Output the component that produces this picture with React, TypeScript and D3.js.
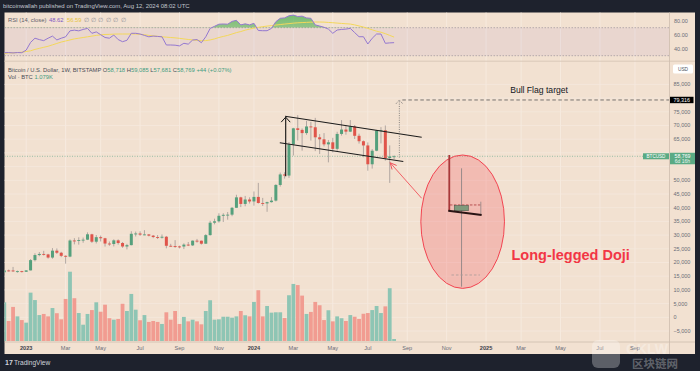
import * as d3 from 'd3'

// weekly candles, BITSTAMP BTCUSD
const weeks = [
  '2022-11-28', '2022-12-05', '2022-12-12', '2022-12-19', '2022-12-26',
  '2023-01-02', '2023-01-09', '2023-01-16', '2023-01-23', '2023-01-30',
  '2023-02-06', '2023-02-13', '2023-02-20', '2023-02-27',
  '2023-03-06', '2023-03-13', '2023-03-20', '2023-03-27',
  '2023-04-03', '2023-04-10', '2023-04-17', '2023-04-24',
  '2023-05-01', '2023-05-08', '2023-05-15', '2023-05-22', '2023-05-29',
  '2023-06-05', '2023-06-12', '2023-06-19', '2023-06-26',
  '2023-07-03', '2023-07-10', '2023-07-17', '2023-07-24', '2023-07-31',
  '2023-08-07', '2023-08-14', '2023-08-21', '2023-08-28',
  '2023-09-04', '2023-09-11', '2023-09-18', '2023-09-25',
  '2023-10-02', '2023-10-09', '2023-10-16', '2023-10-23', '2023-10-30',
  '2023-11-06', '2023-11-13', '2023-11-20', '2023-11-27',
  '2023-12-04', '2023-12-11', '2023-12-18', '2023-12-25',
  '2024-01-01', '2024-01-08', '2024-01-15', '2024-01-22', '2024-01-29',
  '2024-02-05', '2024-02-12', '2024-02-19', '2024-02-26',
  '2024-03-04', '2024-03-11', '2024-03-18', '2024-03-25',
  '2024-04-01', '2024-04-08', '2024-04-15', '2024-04-22', '2024-04-29',
  '2024-05-06', '2024-05-13', '2024-05-20', '2024-05-27',
  '2024-06-03', '2024-06-10', '2024-06-17', '2024-06-24',
  '2024-07-01', '2024-07-08', '2024-07-15', '2024-07-22', '2024-07-29',
  '2024-08-05', '2024-08-12',
]

const opens = [
  16440, 17100, 17090, 16760, 16840, 16610, 17120, 20870, 22720, 23120,
  22950, 21800, 24320, 23560, 22430, 22150, 28030, 27990, 28190, 28330,
  30290, 27590, 29240, 28850, 26920, 26750, 28080, 27110, 25840, 26340,
  30480, 30590, 30170, 30250, 29800, 29300, 29050, 29400, 26100, 26010,
  25860, 25830, 26530, 26250, 27970, 27950, 26860, 29990, 34520, 35030,
  37050, 37400, 37460, 39970, 43780, 41370, 42990, 42280, 43940, 41720,
  41570, 42030, 42580, 48300, 52140, 51730, 63110, 68970, 68390, 67230,
  69650, 69360, 65690, 64960, 63120, 63860, 61480, 66920, 68520, 67760,
  69650, 66240, 64260, 62720, 55850, 60800, 68180, 68260, 58140, 58718,
]
const highs = [
  17420, 17420, 18380, 17050, 16960, 17190, 21260, 23370, 23810, 24250,
  23160, 25250, 25130, 23880, 22600, 28440, 28880, 29190, 29100, 31000,
  30490, 30030, 29820, 29000, 27670, 28450, 28440, 27470, 26800, 31400,
  31290, 31380, 31800, 30350, 30040, 30020, 30240, 29680, 26810, 28150,
  26140, 27000, 27480, 28050, 28600, 28000, 30360, 35210, 35990, 37970,
  37970, 38420, 40220, 44720, 43990, 44290, 43790, 45920, 49050, 43570,
  42200, 43860, 48590, 52820, 52960, 63950, 69170, 73780, 68920, 71720,
  71300, 72780, 66870, 67230, 64730, 65500, 67700, 71960, 70030, 71980,
  70180, 67020, 64520, 63820, 61400, 68380, 69400, 70010, 62740, 59085,
]
const lows = [
  16000, 16680, 16540, 16280, 16330, 16540, 17100, 20400, 22290, 22550,
  21420, 21380, 23120, 21970, 19570, 21930, 26620, 26520, 27210, 28180,
  27140, 26960, 27680, 25810, 26090, 25870, 26520, 25360, 24790, 26250,
  29500, 29710, 29950, 29520, 28880, 28580, 28740, 25170, 25800, 25340,
  25160, 24900, 26000, 26020, 27240, 26540, 26820, 29830, 33930, 34550,
  34790, 35630, 36900, 39970, 40220, 40520, 41530, 40750, 41500, 40630,
  38510, 41860, 42270, 47700, 50620, 50900, 59050, 64530, 60810, 66600,
  64500, 60660, 59600, 62390, 56550, 60190, 60760, 66320, 66630, 67600,
  65070, 63390, 58400, 53500, 54280, 60620, 63460, 57170, 49050, 57681,
]
const closes = [
  17100, 17090, 16760, 16840, 16610, 17120, 20870, 22720, 23120, 22950,
  21800, 24320, 23560, 22430, 22150, 28030, 27990, 28190, 28330, 30290,
  27590, 29240, 28850, 26920, 26750, 28080, 27110, 25840, 26340, 30480,
  30590, 30170, 30250, 29800, 29300, 29050, 29400, 26100, 26010, 25860,
  25830, 26530, 26250, 27970, 27950, 26860, 29990, 34520, 35030, 37050,
  37400, 37460, 39970, 43780, 41370, 42990, 42280, 43940, 41720, 41570,
  42030, 42580, 48300, 52140, 51730, 63110, 68970, 68390, 67230, 69650,
  69360, 65690, 64960, 63120, 63860, 61480, 66920, 68520, 67760, 69650,
  66240, 64260, 62720, 55850, 60800, 68180, 68260, 58140, 58718, 58769,
]
// volume, thousand BTC
const volumes = [
  20.9, 10.8, 18.4, 13.3, 11.3, 9.9, 26.1, 22.1, 14.0, 14.6,
  13.3, 17.8, 15.0, 11.7, 22.7, 37.4, 23.1, 15.1, 8.8, 14.6,
  16.7, 20.9, 15.8, 19.6, 12.3, 11.5, 11.9, 20.1, 16.2, 25.4,
  16.9, 11.2, 14.0, 10.3, 10.8, 10.3, 9.2, 15.5, 11.5, 16.2,
  9.2, 13.0, 10.6, 11.5, 10.6, 9.0, 16.2, 22.0, 11.5, 11.7,
  13.1, 13.1, 12.6, 13.3, 16.2, 13.9, 13.3, 21.1, 27.4, 13.3,
  18.9, 15.3, 15.5, 15.5, 12.4, 24.7, 30.8, 30.2, 24.5, 14.6,
  15.7, 21.1, 19.3, 11.3, 16.6, 10.6, 13.3, 12.3, 10.8, 14.0,
  13.1, 11.9, 14.7, 15.1, 16.7, 18.9, 15.1, 18.7, 28.5, 1.079,
]
// RSI(14) and its moving average
const rsiValues = [
  34.3, 34.5, 34, 34.5, 34.3, 38, 49, 55, 53, 51.5,
  55, 58, 52.5, 55, 57, 65.5, 66.5, 65.5, 67.5, 69,
  62, 64, 60, 56, 55, 59.5, 53, 50, 52, 62,
  62, 61, 59, 57, 58, 57.5, 57, 45.3, 45.3, 45,
  44, 47.7, 46.5, 52.4, 53, 48.6, 57, 69, 72, 75,
  75.3, 75, 79, 80.5, 74, 75.5, 74, 76.3, 66, 65.7,
  65.7, 69, 78.6, 83.4, 84, 87, 88, 86, 86.5, 84,
  83.4, 74, 72.4, 70.6, 68, 62, 66.7, 67.5, 68, 69,
  63, 57.1, 57.1, 46.7, 54.9, 61, 61, 47.7, 48.3, 48.62,
]
const rsiMa = [
  33, 34, 34, 34.5, 35, 36, 37, 39, 40.5, 42,
  43.5, 45.5, 47.5, 49.5, 51, 52.5, 54, 55, 56, 57,
  58, 59, 59.8, 60.3, 60.5, 60.8, 61, 61, 61, 61,
  61, 60.5, 60, 59, 58.3, 57.7, 57, 56.5, 56, 55.5,
  54.8, 54, 53.2, 52.5, 52, 51.5, 51.5, 52.5, 54, 56,
  57.5, 59, 61, 63, 64.5, 66.5, 68, 69.5, 70.5, 71.5,
  72.3, 73, 73.8, 74.5, 75.2, 75.8, 76.5, 77, 77.3, 77.6,
  77.9, 78.1, 78.1, 78, 77.5, 77.1, 76.6, 76.1, 75.6, 75.2,
  74, 72.5, 71, 69, 67, 65, 63.5, 61.5, 59, 56.59,
]

const timeTicks: [string, string][] = [
  ['2023-01-02', '2023'], ['2023-03-06', 'Mar'], ['2023-05-01', 'May'], ['2023-07-03', 'Jul'],
  ['2023-09-04', 'Sep'], ['2023-11-06', 'Nov'], ['2024-01-01', '2024'], ['2024-03-04', 'Mar'],
  ['2024-05-06', 'May'], ['2024-07-01', 'Jul'], ['2024-09-02', 'Sep'], ['2024-11-04', 'Nov'],
  ['2025-01-06', '2025'], ['2025-03-03', 'Mar'], ['2025-05-05', 'May'], ['2025-07-07', 'Jul'],
  ['2025-09-01', 'Sep'],
]
// 80,000 / 60,000 / 55,000 sit under the price labels
const priceTicks = [-5000, 0, 5000, 10000, 15000, 20000, 25000, 30000, 35000, 40000, 45000, 50000, 65000, 70000, 75000, 85000]
const gridPrices = d3.range(-5000, 90000, 5000)
const rsiTicks = [80, 60, 40]

// drawings: [weeks after first candle, price]
const flagUpper: [number, number][] = [[64.1, 73400], [95.3, 65740]]
const flagLower: [number, number][] = [[62.9, 63700], [91.1, 56870]]
const flagPole: [number, number][] = [[64.25, 51500], [64.25, 73050]]
const targetPrice = 79316
const targetArrow: [number, number][] = [[90.2, 58300], [90.2, targetPrice]]
const dojiArrow: [number, number][] = [[95.3, 43430], [88.1, 56400]]
const dojiOval = { left: 95.1, right: 114.2, top: 59230, bottom: 10550 }
const zoomPole: [number, number][] = [[101.6, 59230], [101.6, 38800]]
const zoomFlag: [number, number][] = [[101.37, 38900], [108.99, 37340]]
const zoomOpen: [number, number][] = [[101.75, 41000], [108.8, 41000]]
const zoomTick: [number, number][] = [[108.8, 42190], [108.8, 37340]]
const zoomBody = { left: 102.74, right: 105.94, top: 40730, bottom: 38900 }
const zoomWick: [number, number][] = [[104.4, 54380], [104.4, 11170]]
const zoomLow: [number, number][] = [[102.1, 15440], [108.6, 15440]]

const WEEK = 7 * 864e5
const parse = d3.utcParse('%Y-%m-%d')
const font = '"Liberation Sans", Arial, sans-serif'
const bg = '#f2e1d1'
const dark = '#1e222d'
const upColor = '#55a07c'
const downColor = '#e0544a'
const wickColor = '#a99f9b'
const paneLeft = 4.5
const paneRight = 669.5

export default function App() {
  const dates = weeks.map((d) => parse(d) as Date)
  const x = d3.scaleUtc().domain([dates[0], dates[dates.length - 1]]).range([4.3, 394.1])
  const xw = (w: number) => x(new Date(dates[0].getTime() + w * WEEK))
  const y = d3.scaleLinear().domain([0, 85000]).range([317.3, 84.4])
  const yR = d3.scaleLinear().domain([30, 70]).range([55.7, 27.7])
  const yV = d3.scaleLinear().domain([0, 40]).range([341, 266.9])

  const pt = (p: [number, number]) => [xw(p[0]), y(p[1])] as [number, number]
  const seg = (s: [number, number][]) => {
    const [a, b] = s.map(pt)
    return { x1: a[0], y1: a[1], x2: b[0], y2: b[1] }
  }

  const rsiLine = d3.line<number>().x((_, i) => x(dates[i])).y((v) => yR(v))
  const rsiHigh = d3.area<number>().x((_, i) => x(dates[i])).y0(yR(70)).y1((v) => yR(v))

  const pole = seg(flagPole)
  const tgt = seg(targetArrow)
  const dArrow = seg(dojiArrow)
  const oval = {
    cx: (xw(dojiOval.left) + xw(dojiOval.right)) / 2,
    cy: (y(dojiOval.top) + y(dojiOval.bottom)) / 2,
    rx: (xw(dojiOval.right) - xw(dojiOval.left)) / 2,
    ry: (y(dojiOval.bottom) - y(dojiOval.top)) / 2,
  }
  const arrowAngle = Math.atan2(dArrow.y2 - dArrow.y1, dArrow.x2 - dArrow.x1)
  const head = (len: number, spread: number) =>
    [arrowAngle + Math.PI - spread, arrowAngle + Math.PI + spread]
      .map((a) => `${dArrow.x2 + len * Math.cos(a)},${dArrow.y2 + len * Math.sin(a)}`)

  const last = closes.length - 1
  const fmt = d3.format(',')

  return (
    <svg width={700} height={371} style={{ position: 'fixed', left: 0, top: 0 }} fontFamily={font}>
      <defs>
        <clipPath id="rsiClip"><rect x={paneLeft} y={12.5} width={paneRight - paneLeft} height={48.5} /></clipPath>
        <clipPath id="overClip"><rect x={paneLeft} y={12.5} width={paneRight - paneLeft} height={yR(70) - 12.5} /></clipPath>
        <clipPath id="mainClip"><rect x={paneLeft} y={61.5} width={paneRight - paneLeft} height={280.5} /></clipPath>
        <linearGradient id="obFill" x1="0" x2="0" y1="0" y2="1">
          <stop offset="0" stopColor="#4caf50" stopOpacity={0.75} />
          <stop offset="1" stopColor="#4caf50" stopOpacity={0.2} />
        </linearGradient>
      </defs>

      <rect width={700} height={371} fill={dark} />
      <rect x={paneLeft} y={12.5} width={695 - paneLeft} height={341.5} fill={bg} />
      <text x={3} y={8.3} fontSize={6} fill="#c3c6ce">bitcoinwallah published on TradingView.com, Aug 12, 2024 08:02 UTC</text>

      {/* grid */}
      {timeTicks.map(([d, l]) => {
        const gx = x(parse(d) as Date)
        return gx < paneRight ? <line key={d + l} x1={gx} x2={gx} y1={12.5} y2={342} stroke="#f7ece2" strokeWidth={0.8} /> : null
      })}
      {gridPrices.map((p) => (
        <line key={p} x1={paneLeft} x2={paneRight} y1={y(p)} y2={y(p)} stroke="#f6eae0" strokeWidth={0.7} />
      ))}

      {/* RSI pane */}
      <rect x={paneLeft} y={yR(70)} width={paneRight - paneLeft} height={yR(30) - yR(70)} fill="#7e57c2" fillOpacity={0.08} />
      <line x1={paneLeft} x2={paneRight} y1={yR(70)} y2={yR(70)} stroke="#8f8a94" strokeWidth={0.6} strokeDasharray="1.5 1.5" />
      <line x1={paneLeft} x2={paneRight} y1={yR(30)} y2={yR(30)} stroke="#8f8a94" strokeWidth={0.6} strokeDasharray="1.5 1.5" />
      <g clipPath="url(#rsiClip)">
        <path d={rsiHigh(rsiValues) ?? ''} fill="url(#obFill)" clipPath="url(#overClip)" />
        <path d={rsiLine(rsiMa) ?? ''} fill="none" stroke="#f3d75a" strokeWidth={1} />
        <path d={rsiLine(rsiValues) ?? ''} fill="none" stroke="#9478d0" strokeWidth={1} />
      </g>
      <text x={8} y={21.5} fontSize={5.8} fill="#5d606b">RSI (14, close)</text>
      <text x={49} y={21.5} fontSize={5.8} fill="#7e57c2">{rsiValues[last].toFixed(2)}</text>
      <text x={67} y={21.5} fontSize={5.8} fill="#e6c440">{rsiMa[last].toFixed(2)}</text>
      {d3.range(6).map((k) => (
        <text key={k} x={86 + k * 7.4} y={21.5} fontSize={5.8} fill="#8a8c94" textAnchor="middle">{'\u2205'}</text>
      ))}
      <line x1={paneLeft} x2={695} y1={61.2} y2={61.2} stroke="#d9c8b8" strokeWidth={1} />

      {/* main pane */}
      <g clipPath="url(#mainClip)">
        {dates.map((d, i) => {
          const up = closes[i] >= opens[i]
          return (
            <rect key={'v' + i} x={x(d) - 1.9} width={3.8} y={yV(volumes[i])} height={yV(0) - yV(volumes[i])}
              fill={up ? '#8ec5b4' : '#f19c91'} />
          )
        })}
        {dates.map((d, i) => {
          const up = closes[i] >= opens[i]
          const yo = y(opens[i])
          const yc = y(closes[i])
          return (
            <g key={'c' + i}>
              <line x1={x(d)} x2={x(d)} y1={y(highs[i])} y2={y(lows[i])} stroke={wickColor} strokeWidth={0.9} />
              <rect x={x(d) - 1.5} width={3} y={Math.min(yo, yc)} height={Math.max(0.9, Math.abs(yo - yc))}
                fill={up ? upColor : downColor} />
            </g>
          )
        })}
        <line x1={paneLeft} x2={paneRight} y1={y(closes[last])} y2={y(closes[last])} stroke="#6fae92" strokeWidth={0.7} strokeDasharray="1 1.5" />

        {/* bull flag */}
        <line {...seg(flagUpper)} stroke="#1c1c1c" strokeWidth={1.1} />
        <line {...seg(flagLower)} stroke="#1c1c1c" strokeWidth={1.1} />
        <line {...pole} stroke="#111" strokeWidth={1.1} />
        <polyline points={`${pole.x2 - 4.5},${pole.y2 + 5} ${pole.x2},${pole.y2} ${pole.x2 + 4.5},${pole.y2 + 5}`} fill="none" stroke="#111" strokeWidth={1} />
        <line {...tgt} stroke="#6b6b6b" strokeWidth={0.8} strokeDasharray="1 1.3" />
        <polyline points={`${tgt.x2 - 3.5},${tgt.y2 + 4} ${tgt.x2},${tgt.y2} ${tgt.x2 + 3.5},${tgt.y2 + 4}`} fill="none" stroke="#6b6b6b" strokeWidth={0.8} strokeDasharray="1 1" />
        <line x1={tgt.x2 + 3} x2={paneRight} y1={y(targetPrice)} y2={y(targetPrice)} stroke="#555" strokeWidth={0.8} strokeDasharray="3.5 2.5" />
        <text x={xw(115.5)} y={y(81800)} fontSize={8.6} fontWeight={500} fill="#131722">Bull Flag target</text>

        {/* long-legged doji callout */}
        <line {...dArrow} stroke="#f0525a" strokeWidth={0.9} />
        <polyline points={`${head(7, 0.45)[0]} ${dArrow.x2},${dArrow.y2} ${head(7, 0.45)[1]}`} fill="none" stroke="#f0525a" strokeWidth={1} />
        <ellipse {...oval} fill="#f23645" fillOpacity={0.22} stroke="#f23645" strokeWidth={0.9} />
        <line {...seg(zoomWick)} stroke="#8f8584" strokeWidth={0.9} />
        <line {...seg(zoomLow)} stroke="#a89a98" strokeWidth={0.8} strokeDasharray="2.5 2" />
        <line {...seg(zoomPole)} stroke="#a8383a" strokeWidth={1.8} />
        <line {...seg(zoomOpen)} stroke="#a8383a" strokeWidth={0.8} strokeDasharray="2.5 1.5" />
        <line {...seg(zoomTick)} stroke="#8f8584" strokeWidth={0.8} />
        <rect x={xw(zoomBody.left)} y={y(zoomBody.top)} width={xw(zoomBody.right) - xw(zoomBody.left)} height={y(zoomBody.bottom) - y(zoomBody.top)}
          fill="#7f9a7c" stroke="#4e5a4c" strokeWidth={0.6} />
        <line {...seg(zoomFlag)} stroke="#2a1414" strokeWidth={2} />
        <text x={xw(115.8)} y={y(20900)} fontSize={14.5} fontWeight={700} fill="#f23645">Long-legged Doji</text>
      </g>

      <text x={8} y={71.5} fontSize={5.8} fill="#4a4d57">
        Bitcoin / U.S. Dollar, 1W, BITSTAMP{' '}
        <tspan>O</tspan><tspan fill="#3f9c80">{fmt(opens[last])}</tspan>{' '}
        <tspan>H</tspan><tspan fill="#3f9c80">{fmt(highs[last])}</tspan>{' '}
        <tspan>L</tspan><tspan fill="#3f9c80">{fmt(lows[last])}</tspan>{' '}
        <tspan>C</tspan><tspan fill="#3f9c80">{fmt(closes[last])}</tspan>{' '}
        <tspan fill="#3f9c80">+44 (+0.07%)</tspan>
      </text>
      <text x={8} y={79} fontSize={5.8} fill="#4a4d57">
        Vol · BTC <tspan fill="#3f9c80">{volumes[last].toFixed(3)}K</tspan>
      </text>

      {/* price axis */}
      <line x1={paneRight} x2={paneRight} y1={12.5} y2={354} stroke="#cdbcad" strokeWidth={0.8} />
      {rsiTicks.map((t) => (
        <text key={t} x={674} y={yR(t)} dy="0.35em" fontSize={5.5} fill="#6a6d78">{t.toFixed(2)}</text>
      ))}
      <rect x={673} y={64.5} width={20} height={9} rx={1.5} fill="#ffffff" />
      <text x={683} y={69} dy="0.35em" fontSize={4.8} fill="#50535e" textAnchor="middle">USD</text>
      {priceTicks.map((p) => (
        <text key={p} x={673.5} y={y(p)} dy="0.35em" fontSize={5.5} fill="#6a6d78">{p < 0 ? '\u2212' + fmt(-p) : fmt(p)}</text>
      ))}
      <rect x={670} y={y(targetPrice) - 3.2} width={23.5} height={6.4} fill="#000" />
      <text x={681.7} y={y(targetPrice)} dy="0.35em" fontSize={5.4} fill="#fff" textAnchor="middle">{fmt(targetPrice)}</text>
      <rect x={643} y={y(closes[last]) - 3} width={26} height={6} fill="#5aaa84" />
      <text x={656} y={y(closes[last])} dy="0.35em" fontSize={4.6} fill="#fff" textAnchor="middle">BTCUSD</text>
      <rect x={670} y={y(closes[last]) - 3.5} width={25} height={11.5} fill="#5aaa84" />
      <text x={682.5} y={y(closes[last])} dy="0.35em" fontSize={5.2} fill="#fff" textAnchor="middle">{fmt(closes[last])}</text>
      <text x={682.5} y={y(closes[last]) + 5} dy="0.35em" fontSize={5} fill="#eaf6ef" textAnchor="middle">6d 16h</text>

      {/* time axis */}
      <line x1={paneLeft} x2={695} y1={342} y2={342} stroke="#cdbcad" strokeWidth={0.8} />
      {timeTicks.map(([d, l]) => (
        <text key={d} x={x(parse(d) as Date)} y={348} dy="0.35em" fontSize={5.6} textAnchor="middle"
          fill={/^\d/.test(l) ? '#3b3e48' : '#6a6d78'} fontWeight={/^\d/.test(l) ? 700 : 400}>{l}</text>
      ))}

      {/* footer + watermark */}
      <rect x={0} y={354} width={700} height={17} fill={dark} />
      <text x={5} y={363} dy="0.35em" fontSize={7} fontWeight={700} fill="#d1d4dc">17</text>
      <text x={14} y={363} dy="0.35em" fontSize={6.6} fill="#d1d4dc">TradingView</text>
      <rect x={592} y={340} width={28} height={28} rx={6} fill="#ffffff" fillOpacity={0.28} />
      <text x={626} y={353.5} fontSize={14} fontWeight={700} fill="#ffffff" fillOpacity={0.3}>OKLW</text>
      <text x={632} y={368} fontSize={11.5} fontWeight={700} fill="#ffffff" fillOpacity={0.3} fontFamily='"Noto Sans CJK SC", sans-serif'>区块链网</text>
    </svg>
  )
}
